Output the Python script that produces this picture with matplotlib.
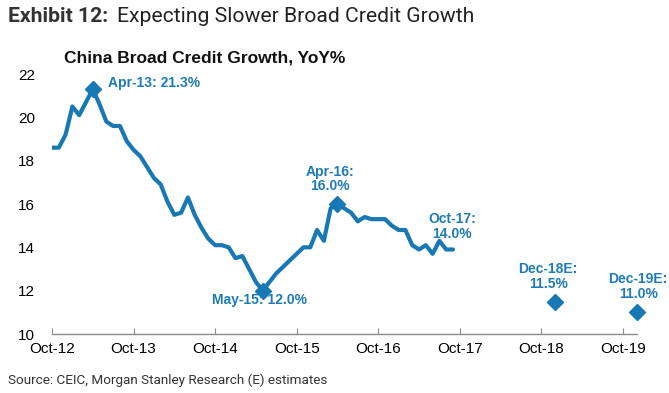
import matplotlib.pyplot as plt
import numpy as np

# monthly broad credit growth, YoY%, Oct-12 .. Sep-17
credit = [18.6, 18.6, 19.2, 20.5, 20.1, 20.7, 21.3, 20.6, 19.8, 19.6,
          19.6, 18.9, 18.5, 18.2, 17.7, 17.2, 16.9, 16.1, 15.5, 15.6,
          16.3, 15.5, 14.9, 14.4, 14.1, 14.1, 14.0, 13.5, 13.6, 13.0,
          12.4, 12.0, 12.4, 12.8, 13.1, 13.4, 13.7, 14.0, 14.0, 14.8,
          14.3, 15.8, 16.0, 15.8, 15.6, 15.2, 15.4, 15.3, 15.3, 15.3,
          15.0, 14.8, 14.8, 14.1, 13.9, 14.1, 13.7, 14.3, 13.9, 13.9]
months = np.arange(len(credit))  # months since Oct-12

# highlighted history points and estimates
hi_idx = [6, 31, 42]
est_months = [74, 86]
est_values = [11.5, 11.0]

tick_months = np.arange(0, 85, 12)
tick_labels = ["Oct-12", "Oct-13", "Oct-14", "Oct-15", "Oct-16",
               "Oct-17", "Oct-18", "Oct-19"]

blue = "#1878b4"
txt_blue = "#1f7bb6"

fig = plt.figure(figsize=(6.69, 3.93), dpi=100)
ax = fig.add_axes([52 / 669, 59 / 393, 584.5 / 669, 260 / 393])

ax.plot(months, credit, color=blue, lw=3.0, solid_joinstyle="round",
        solid_capstyle="round")
ax.plot(months[hi_idx], np.array(credit)[hi_idx], "D", color=blue, ms=8)
ax.plot(est_months, est_values, "D", color=blue, ms=8, clip_on=False)

ax.set_xlim(0, 86)
ax.set_ylim(10, 22)
ax.set_yticks(np.arange(10, 23, 2))
ax.set_xticks(tick_months)
ax.set_xticklabels(tick_labels)

for s in ["left", "top", "right"]:
    ax.spines[s].set_visible(False)
ax.spines["bottom"].set_color("#8c8c8c")
ax.spines["bottom"].set_linewidth(1)
ax.tick_params(axis="x", direction="in", length=4, color="#8c8c8c",
               labelsize=11, pad=6)
ax.tick_params(axis="y", length=0, labelsize=11, pad=12)
for lab in ax.get_xticklabels() + ax.get_yticklabels():
    lab.set_family("Liberation Sans")

lbl = dict(color=txt_blue, fontsize=10, fontweight="bold",
           family="Liberation Sans", linespacing=1.05)
ax.text(8.25, 21.58, "Apr-13: 21.3%", ha="left", va="center", **lbl)
ax.text(30.5, 11.55, "May-15: 12.0%", ha="center", va="center", **lbl)
ax.text(40.9, 17.15, "Apr-16:\n16.0%", ha="center", va="center", **lbl)
ax.text(58.9, 14.95, "Oct-17:\n14.0%", ha="center", va="center", **lbl)
ax.text(73.0, 12.65, "Dec-18E:\n11.5%", ha="center", va="center", **lbl)
ax.text(86.25, 12.19, "Dec-19E:\n11.0%", ha="center", va="center", **lbl)

# titles
t1 = fig.text(8 / 669, 1 - 17 / 393, "Exhibit 12:", fontsize=15.2,
              fontweight="bold", family="Roboto", color="#333333",
              va="center", ha="left")
fig.canvas.draw()
bb = t1.get_window_extent()
fig.text((bb.x1 + 9) / 669, 1 - 17 / 393,
         "Expecting Slower Broad Credit Growth", fontsize=15.2,
         family="Roboto", color="#222222", va="center", ha="left")
fig.text(64 / 669, 1 - 58 / 393, "China Broad Credit Growth, YoY%",
         fontsize=12.5, fontweight="bold", family="Liberation Sans",
         color="#111111", va="center", ha="left")
fig.text(8 / 669, 1 - 380 / 393,
         "Source: CEIC, Morgan Stanley Research (E) estimates",
         fontsize=9.7, family="Roboto", color="#333333", va="center",
         ha="left")

fig.savefig("out.png", dpi=100)
